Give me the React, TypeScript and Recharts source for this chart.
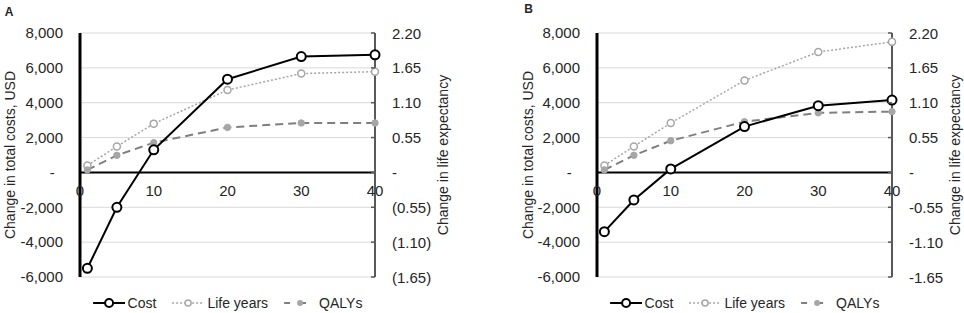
import React from 'react';
import { LineChart, Line, XAxis, YAxis, CartesianGrid, ReferenceLine } from 'recharts';

const years = [1, 5, 10, 20, 30, 40];
const costA = [-5500, -2000, 1300, 5350, 6650, 6750];
const lifeYearsA = [0.11, 0.41, 0.77, 1.3, 1.56, 1.59];
const qalysA = [0.04, 0.27, 0.47, 0.71, 0.78, 0.78];
const costB = [-3400, -1580, 200, 2630, 3830, 4150];
const lifeYearsB = [0.11, 0.41, 0.78, 1.45, 1.9, 2.06];
const qalysB = [0.04, 0.27, 0.5, 0.8, 0.94, 0.96];

const xTicks = [0, 10, 20, 30, 40];
const leftTicks = [-6000, -4000, -2000, 0, 2000, 4000, 6000, 8000];
const rightTicks = [-1.65, -1.1, -0.55, 0, 0.55, 1.1, 1.65, 2.2];

const leftTitle = 'Change in total costs, USD';
const rightTitle = 'Change in life expectancy';
const seriesNames = ['Cost', 'Life years', 'QALYs'];

const FONT = '"Liberation Sans", Arial, sans-serif';
const TXT = '#262626';
const TICK_FS = 15;

const leftFmt = (v: number) => (v === 0 ? '-\u00a0\u00a0' : v.toLocaleString('en-US'));
const rightFmtA = (v: number) =>
  v === 0 ? '-' : v < 0 ? `(${Math.abs(v).toFixed(2)})` : v.toFixed(2);
const rightFmtB = (v: number) => (v === 0 ? '-' : v.toFixed(2));

const build = (cost: number[], ly: number[], q: number[]) =>
  years.map((y, i) => ({ year: y, cost: cost[i], ly: ly[i], q: q[i] }));

const renderXTick = (props: any) => {
  const { x, payload } = props;
  return (
    <text key={`xt-${payload.value}`} x={x} y={190} textAnchor="middle" dominantBaseline="central" fill={TXT} fontSize={TICK_FS} fontFamily={FONT}>
      {payload.value}
    </text>
  );
};

const makeRightTick = (fmt: (v: number) => string) => (props: any) => {
  const { x, y, payload } = props;
  const axisX = x - 17;
  return (
    <g key={`rt-${payload.value}`}>
      <line x1={axisX - 4} y1={y} x2={axisX} y2={y} stroke="#595959" strokeWidth={1.5} />
      <text x={x} y={y} textAnchor="start" dominantBaseline="central" fill={TXT} fontSize={TICK_FS} fontFamily={FONT}>
        {fmt(payload.value)}
      </text>
    </g>
  );
};

type PanelProps = {
  left: number;
  leftAxisW: number;
  rightAxisW: number;
  data: any[];
  rightFmt: (v: number) => string;
  letter: string;
  letterPos: [number, number];
  leftTitleX: number;
  rightTitleX: number;
};

const Panel = ({ left, leftAxisW, rightAxisW, data, rightFmt, letter, letterPos, leftTitleX, rightTitleX }: PanelProps) => {
  const W = 482;
  const plotL = leftAxisW;
  const plotR = W - rightAxisW;
  const center = (plotL + plotR) / 2;
  const titleStyle: React.CSSProperties = {
    position: 'absolute',
    top: 155,
    whiteSpace: 'nowrap',
    fontSize: 14,
    fontFamily: FONT,
    color: TXT,
    transform: 'translate(-50%, -50%) rotate(-90deg)',
    lineHeight: '16px',
  };
  return (
    <div style={{ position: 'absolute', left, top: 0, width: W, height: 313 }}>
      <LineChart width={W} height={313} data={data} margin={{ top: 33, right: 0, bottom: 34, left: 0 }}>
        <CartesianGrid vertical={false} stroke="#d9d9d9" yAxisId="left" />
        <XAxis
          dataKey="year"
          type="number"
          domain={[0, 40]}
          ticks={xTicks}
          height={2}
          axisLine={false}
          tickLine={false}
          tick={renderXTick}
          interval={0}
        />
        <YAxis
          yAxisId="left"
          orientation="left"
          width={leftAxisW}
          domain={[-6000, 8000]}
          ticks={leftTicks}
          tickFormatter={leftFmt}
          axisLine={{ stroke: '#000', strokeWidth: 3 }}
          tickLine={false}
          tickSize={0}
          tickMargin={17}
          interval={0}
          tick={{ fill: TXT, fontSize: TICK_FS, fontFamily: FONT }}
        />
        <YAxis
          yAxisId="right"
          orientation="right"
          width={rightAxisW}
          domain={[-1.65, 2.2]}
          ticks={rightTicks}
          axisLine={{ stroke: '#595959', strokeWidth: 2 }}
          tickLine={false}
          tickSize={0}
          tickMargin={17}
          interval={0}
          tick={makeRightTick(rightFmt)}
        />
        <ReferenceLine yAxisId="left" y={0} stroke="#000" strokeWidth={2} />
        <Line
          yAxisId="right"
          dataKey="ly"
          name={seriesNames[1]}
          stroke="#a6a6a6"
          strokeWidth={1.5}
          strokeDasharray="2 2"
          dot={{ r: 3.5, stroke: '#a6a6a6', strokeWidth: 1.5, fill: '#fff', strokeDasharray: '' }}
          isAnimationActive={false}
        />
        <Line
          yAxisId="right"
          dataKey="q"
          name={seriesNames[2]}
          stroke="#7f7f7f"
          strokeWidth={2}
          strokeDasharray="8 5"
          dot={{ r: 3.2, stroke: '#a6a6a6', strokeWidth: 1, fill: '#a6a6a6', strokeDasharray: '' }}
          isAnimationActive={false}
        />
        <Line
          yAxisId="left"
          dataKey="cost"
          name={seriesNames[0]}
          stroke="#000"
          strokeWidth={2}
          dot={{ r: 4.5, stroke: '#000', strokeWidth: 2, fill: '#fff' }}
          isAnimationActive={false}
        />
      </LineChart>
      <div style={{ ...titleStyle, left: leftTitleX }}>{leftTitle}</div>
      <div style={{ ...titleStyle, left: rightTitleX }}>{rightTitle}</div>
      <div
        style={{
          position: 'absolute',
          left: letterPos[0],
          top: letterPos[1],
          transform: 'translate(-50%, -50%)',
          fontWeight: 'bold',
          fontSize: 12,
          fontFamily: FONT,
          color: TXT,
        }}
      >
        {letter}
      </div>
      <div
        style={{
          position: 'absolute',
          left: center,
          top: 303,
          transform: 'translate(-50%, -50%)',
          display: 'flex',
          alignItems: 'center',
          gap: 16,
          fontSize: 14,
          fontFamily: FONT,
          color: TXT,
          whiteSpace: 'nowrap',
        }}
      >
        <div style={{ display: 'flex', alignItems: 'center' }}>
          <svg width={32} height={12}>
            <line x1={0} y1={6} x2={32} y2={6} stroke="#000" strokeWidth={2} />
            <circle cx={16} cy={6} r={4} stroke="#000" strokeWidth={2} fill="#fff" />
          </svg>
          <span style={{ marginLeft: 3 }}>{seriesNames[0]}</span>
        </div>
        <div style={{ display: 'flex', alignItems: 'center' }}>
          <svg width={32} height={12}>
            <line x1={0} y1={6} x2={32} y2={6} stroke="#a6a6a6" strokeWidth={1.5} strokeDasharray="2 2" />
            <circle cx={16} cy={6} r={3} stroke="#a6a6a6" strokeWidth={1.5} fill="#fff" />
          </svg>
          <span style={{ marginLeft: 3 }}>{seriesNames[1]}</span>
        </div>
        <div style={{ display: 'flex', alignItems: 'center' }}>
          <svg width={32} height={12}>
            <line x1={0} y1={6} x2={32} y2={6} stroke="#7f7f7f" strokeWidth={2} strokeDasharray="6 10" />
            <circle cx={16} cy={6} r={3} fill="#a6a6a6" />
          </svg>
          <span style={{ marginLeft: 3 }}>{seriesNames[2]}</span>
        </div>
      </div>
    </div>
  );
};

export default function App() {
  const dataA = build(costA, lifeYearsA, qalysA);
  const dataB = build(costB, lifeYearsB, qalysB);
  return (
    <div style={{ position: 'absolute', left: 0, top: 0, width: 964, height: 313, background: '#fff', overflow: 'hidden' }}>
      <Panel
        left={0}
        leftAxisW={80}
        rightAxisW={107}
        data={dataA}
        rightFmt={rightFmtA}
        letter="A"
        letterPos={[9, 12]}
        leftTitleX={10}
        rightTitleX={443}
      />
      <Panel
        left={482}
        leftAxisW={115}
        rightAxisW={72}
        data={dataB}
        rightFmt={rightFmtB}
        letter="B"
        letterPos={[46.5, 9]}
        leftTitleX={46}
        rightTitleX={473}
      />
    </div>
  );
}
